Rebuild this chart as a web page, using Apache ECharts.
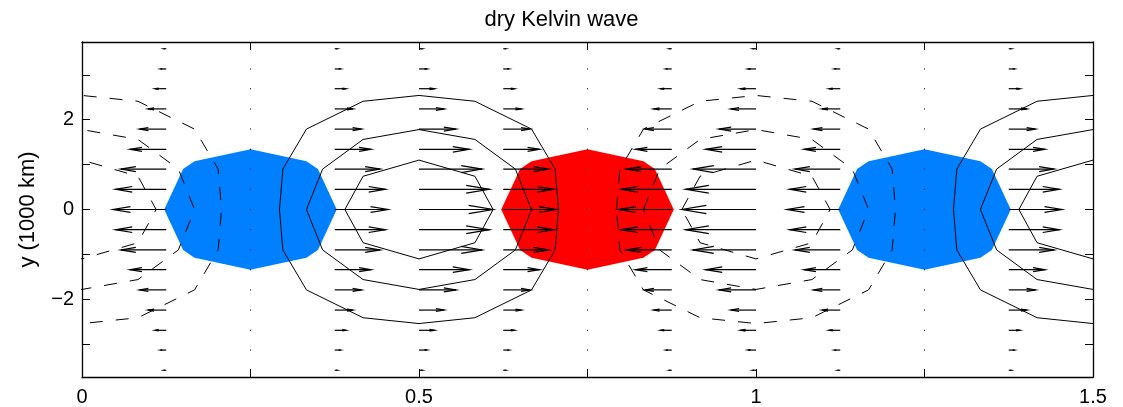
<!DOCTYPE html>
<html>
<head>
<meta charset="utf-8">
<script src="https://cdn.jsdelivr.net/npm/echarts@6/dist/echarts.min.js"></script>
<style>
    html, body { margin: 0; padding: 0; background: #fff; }
    #grafico { width: 1123px; height: 407px; }
</style>
</head>
<body>
<div id="grafico"></div>
<script>
// Grade das setas (quiver): colunas em x e linhas em y
const colunasX = [0, 0.125, 0.25, 0.375, 0.5, 0.625, 0.75, 0.875, 1.0, 1.125, 1.25, 1.375, 1.5];
// Vento zonal relativo de cada coluna (sinal = sentido da seta)
const ventoColuna = [-1, -0.72, 0, 0.72, 1, 0.72, 0, -0.72, -1, -0.72, 0, 0.72, 1];
const linhasY = [-3.58, -3.13, -2.69, -2.24, -1.79, -1.34, -0.90, -0.45, 0, 0.45, 0.90, 1.34, 1.79, 2.24, 2.69, 3.13, 3.58];
const ventoLinha = [0.045, 0.11, 0.21, 0.34, 0.50, 0.68, 0.85, 0.95, 1, 0.95, 0.85, 0.68, 0.50, 0.34, 0.21, 0.11, 0.045];
const comprimentoMax = 0.11; // seta mais longa, em unidades do eixo x

// Contornos do geopotencial: forma de cada anel relativa ao seu centro
const anelExterno = [[-0.207, 0], [-0.202, 0.90], [-0.167, 1.79], [-0.083, 2.41], [0, 2.54], [0.083, 2.41], [0.167, 1.79], [0.202, 0.90],
    [0.207, 0], [0.202, -0.90], [0.167, -1.79], [0.083, -2.41], [0, -2.54], [-0.083, -2.41], [-0.167, -1.79], [-0.202, -0.90], [-0.207, 0]];
const anelMedio = [[-0.167, 0], [-0.143, 0.90], [-0.083, 1.56], [0, 1.78], [0.083, 1.56], [0.143, 0.90],
    [0.167, 0], [0.143, -0.90], [0.083, -1.56], [0, -1.78], [-0.083, -1.56], [-0.143, -0.90], [-0.167, 0]];
const anelInterno = [[-0.11, 0], [-0.083, 0.74], [0, 1.10], [0.083, 0.74], [0.11, 0], [0.083, -0.74], [0, -1.10], [-0.083, -0.74], [-0.11, 0]];
const centrosContorno = [0, 0.5, 1.0, 1.5];
const sinalContorno = [-1, 1, -1, 1]; // negativo = tracejado

// Regiões preenchidas (divergência em azul, convergência em vermelho)
const formaRegiao = [[-0.128, 0], [-0.10, 0.90], [-0.083, 1.075], [0, 1.343], [0.083, 1.075], [0.10, 0.90],
    [0.128, 0], [0.10, -0.90], [0.083, -1.075], [0, -1.343], [-0.083, -1.075], [-0.10, -0.90]];
const centrosRegiao = [0.25, 0.75, 1.25];
const coresRegiao = ['#0080ff', '#ff0000', '#0080ff'];

const ticksX = [0, 0.25, 0.5, 0.75, 1, 1.25, 1.5];
const rotulosX = [0, 0.5, 1, 1.5];
const ticksY = [-3, -2, -1, 0, 1, 2, 3];
const rotulosY = [-2, 0, 2];

document.addEventListener("DOMContentLoaded", () => {
    const meuGrafico = echarts.init(document.getElementById('grafico'));
    const fonte = 'Liberation Sans, Arial, Helvetica, sans-serif';

    // Dados das setas: [x, y, u]
    const dadosSetas = [];
    colunasX.forEach((x, i) => {
        linhasY.forEach((y, j) => {
            dadosSetas.push([x, y, ventoColuna[i] * ventoLinha[j] * comprimentoMax]);
        });
    });

    // Uma série de linha para cada anel de contorno
    const seriesContorno = [];
    centrosContorno.forEach((c, k) => {
        [anelExterno, anelMedio, anelInterno].forEach(anel => {
            seriesContorno.push({
                type: 'line',
                data: anel.map(p => [c + p[0], p[1]]),
                symbol: 'none',
                clip: true,
                silent: true,
                z: 3,
                lineStyle: {
                    color: '#000',
                    width: 1,
                    type: sinalContorno[k] < 0 ? [13, 13] : 'solid'
                }
            });
        });
    });

    const eixoXBase = {
        type: 'value', min: 0, max: 1.5, interval: 0.25,
        splitLine: { show: false },
        axisLine: { show: true, onZero: false, lineStyle: { color: '#000', width: 1.3 } },
        axisTick: { show: true, inside: true, length: 8, customValues: ticksX, lineStyle: { color: '#000' } }
    };
    const eixoYBase = {
        type: 'value', min: -3.73, max: 3.73,
        splitLine: { show: false },
        axisLine: { show: true, onZero: false, lineStyle: { color: '#000', width: 1.3 } },
        axisTick: { show: true, inside: true, length: 8, customValues: ticksY, lineStyle: { color: '#000' } }
    };

    const opcoes = {
        animation: false,
        backgroundColor: '#fff',
        title: {
            text: 'dry Kelvin wave',
            left: 'center',
            top: 4,
            textStyle: { fontFamily: fonte, fontSize: 22, fontWeight: 'normal', color: '#000' }
        },
        grid: { left: 82, right: 30, top: 42, bottom: 30 },
        xAxis: [
            Object.assign({}, eixoXBase, {
                position: 'bottom',
                axisLabel: {
                    customValues: rotulosX, margin: 10,
                    fontFamily: fonte, fontSize: 20, color: '#000',
                    formatter: v => String(v)
                }
            }),
            Object.assign({}, eixoXBase, { position: 'top', axisLabel: { show: false } })
        ],
        yAxis: [
            Object.assign({}, eixoYBase, {
                position: 'left',
                name: 'y (1000 km)',
                nameLocation: 'middle',
                nameGap: 43,
                nameTextStyle: { fontFamily: fonte, fontSize: 22, color: '#000' },
                axisLabel: {
                    customValues: rotulosY, margin: 8,
                    fontFamily: fonte, fontSize: 20, color: '#000',
                    formatter: v => (v < 0 ? '\u2212' + Math.abs(v) : String(v))
                }
            }),
            Object.assign({}, eixoYBase, { position: 'right', axisLabel: { show: false } })
        ],
        series: [
            {
                // polígonos de divergência/convergência
                type: 'custom',
                clip: true,
                silent: true,
                z: 1,
                data: centrosRegiao.map((c, i) => [c, 0, i]),
                renderItem: (params, api) => {
                    const i = params.dataIndex;
                    const c = centrosRegiao[i];
                    return {
                        type: 'polygon',
                        shape: { points: formaRegiao.map(p => api.coord([c + p[0], p[1]])) },
                        style: { fill: coresRegiao[i], stroke: null }
                    };
                }
            },
            ...seriesContorno,
            {
                // setas do vento
                type: 'custom',
                clip: true,
                silent: true,
                z: 4,
                data: dadosSetas,
                renderItem: (params, api) => {
                    const p0 = api.coord([api.value(0), api.value(1)]);
                    const p1 = api.coord([api.value(0) + api.value(2), api.value(1)]);
                    const dx = p1[0] - p0[0];
                    const estilo = { stroke: '#000', lineWidth: 1.2, fill: null };
                    if (Math.abs(dx) < 0.8) {
                        return { type: 'rect', shape: { x: p0[0] - 0.5, y: p0[1] - 0.5, width: 1, height: 1 }, style: { fill: '#000' } };
                    }
                    const trasX = p1[0] - 0.33 * dx;
                    const meiaLargura = 0.055 * Math.abs(dx);
                    return {
                        type: 'group',
                        children: [
                            { type: 'line', shape: { x1: p0[0], y1: p0[1], x2: p1[0], y2: p1[1] }, style: estilo },
                            { type: 'polyline', shape: { points: [[trasX, p1[1] - meiaLargura], p1, [trasX, p1[1] + meiaLargura]] }, style: estilo }
                        ]
                    };
                }
            }
        ]
    };

    meuGrafico.setOption(opcoes);
});
</script>
</body>
</html>
